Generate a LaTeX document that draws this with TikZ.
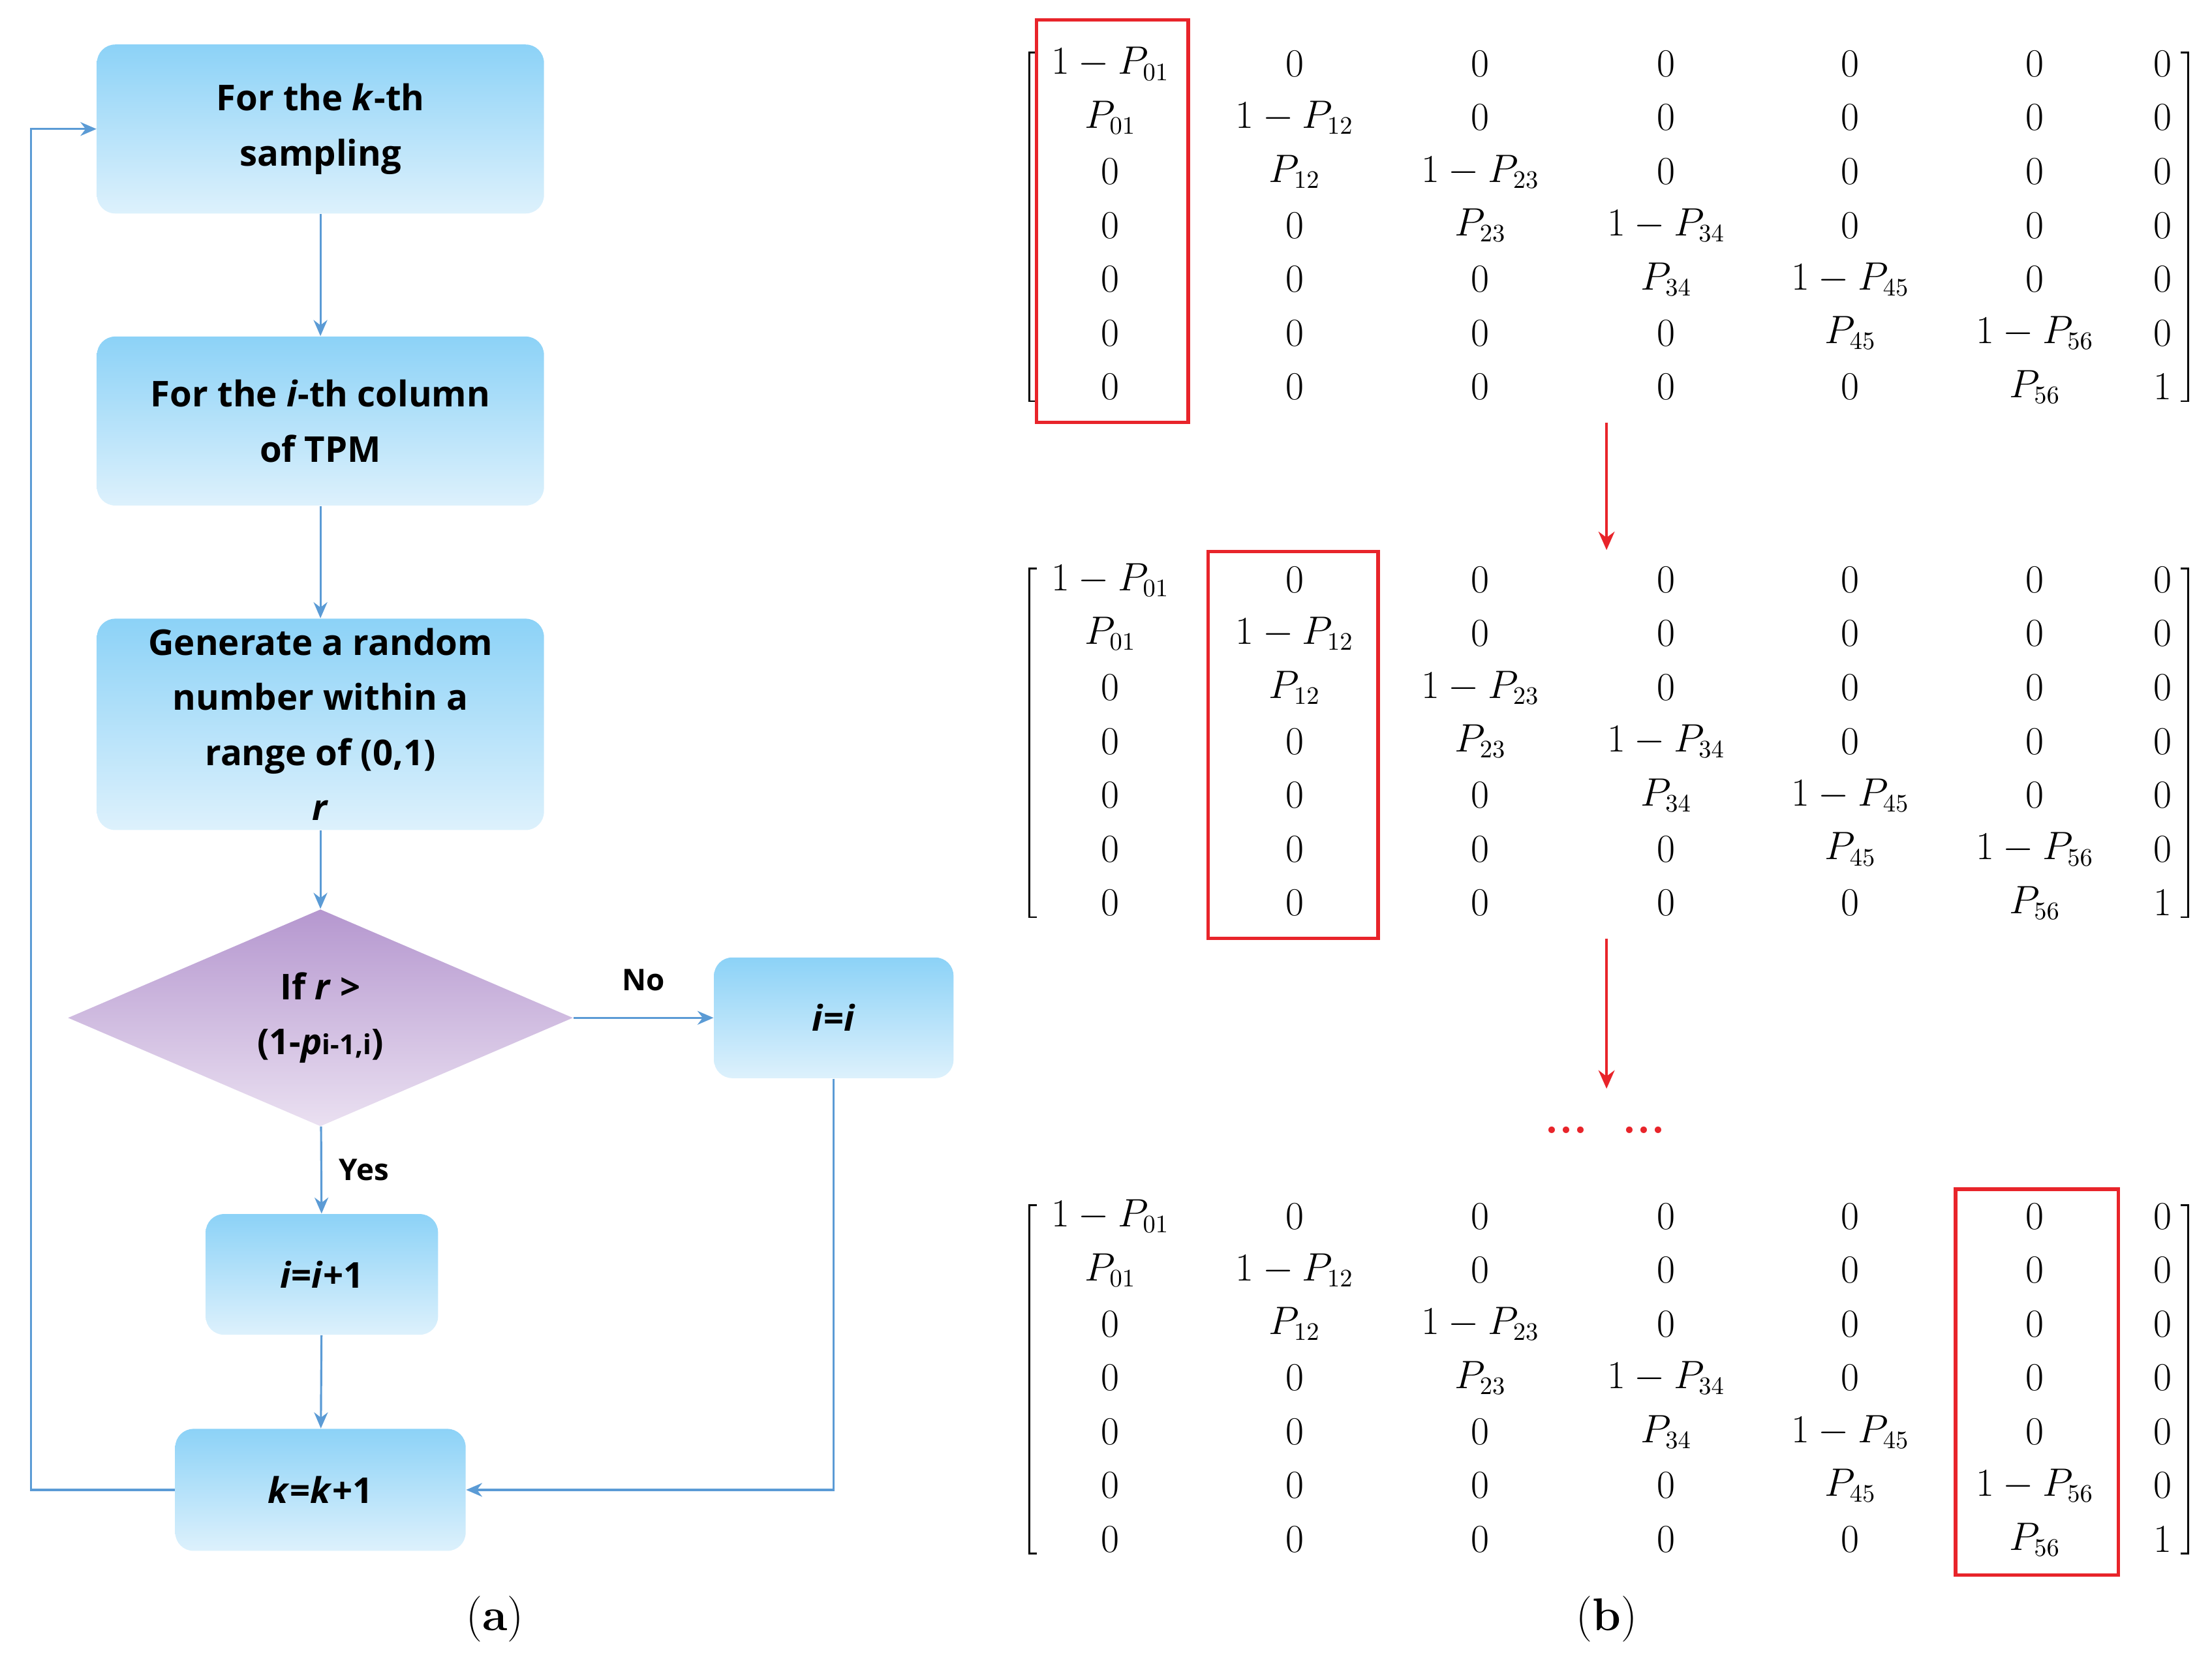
\documentclass[tikz,border=0pt]{standalone}
\usepackage{fontspec}
\setmainfont{Latin Modern Roman}
\newfontfamily\flowfont{Open Sans}
\usetikzlibrary{shapes.geometric,arrows.meta}
\definecolor{lb}{HTML}{5B9BD5}
\definecolor{bt}{HTML}{8CD2F7}
\definecolor{bb}{HTML}{DDF1FC}
\definecolor{pt}{HTML}{B597CF}
\definecolor{pb}{HTML}{EAE0F1}
\definecolor{rr}{HTML}{E8242A}
\begin{document}
\begin{tikzpicture}[x=0.02173cm,y=-0.02173cm,
  box/.style={rounded corners=0.28cm,top color=bt,bottom color=bb,draw=none,
    font=\flowfont\bfseries\fontsize{15.5}{24}\selectfont,align=center,inner sep=0pt},
  con/.style={lb,line width=0.9pt,-{Stealth[length=7pt,width=6pt]}},
  ent/.style={font=\fontsize{16}{20}\selectfont,inner sep=0pt},
  lab/.style={text=black,font=\flowfont\bfseries\fontsize{13}{16}\selectfont}]
\useasboundingbox (0,0) rectangle (1560,1166);
% flowchart
\node[box,minimum width=6.85cm,minimum height=2.59cm] (b1) at (226,91) {For the \textit{k}-th\\sampling};
\node[box,minimum width=6.85cm,minimum height=2.59cm] (b2) at (226,297) {For the \textit{i}-th column\\of TPM};
\node[box,minimum width=6.85cm,minimum height=3.24cm] (b3) at (226,511) {Generate a random\\number within a\\range of (0,1)\\\textit{r}};
\node[diamond,top color=pt,bottom color=pb,minimum width=7.74cm,minimum height=3.04cm,inner sep=0pt,
  font=\flowfont\bfseries\fontsize{15.5}{24}\selectfont,align=center] (d) at (226,718) {If \textit{r} >\\(1-\textit{p}{\fontsize{12}{15}\selectfont i-1,i})};
\node[box,minimum width=3.67cm,minimum height=1.85cm] (bn) at (588,718) {\textit{i}=\textit{i}};
\node[box,minimum width=3.56cm,minimum height=1.85cm] (by) at (227,899) {\textit{i}=\textit{i}+1};
\node[box,minimum width=4.45cm,minimum height=1.87cm] (bk) at (226,1051) {\textit{k}=\textit{k}+1};
\draw[con] (b1) -- (b2);
\draw[con] (b2) -- (b3);
\draw[con] (b3) -- (d);
\draw[con] (d) -- (bn) node[lab,midway,above=8pt] (no) {No};
\draw[con] (d) -- (by) node[lab,midway,right=4pt] (yes) {Yes};
\draw[con] (by) -- (bk);
\draw[con] (bk.west) -- (22,1051) -- (22,91) -- (b1.west);
\draw[con] (bn.south) -- (588,1051) -- (bk.east);
\node[font=\bfseries\fontsize{20}{24}\selectfont] (la) at (349,1142) {\textmd{(}a\textmd{)}};
\node[font=\bfseries\fontsize{20}{24}\selectfont] (lbb) at (1133,1142) {\textmd{(}b\textmd{)}};
% matrices
\foreach \m/\y in {1/45,2/409,3/858}{
  \foreach \c/\x in {0/783,1/913,2/1044,3/1175,4/1305,5/1435,6/1525}{
    \foreach \r in {0,...,6}{
      \pgfmathtruncatemacro\cc{\c+1}
      \pgfmathtruncatemacro\pr{\r-1}
      \pgfmathsetmacro\yy{\y+38*\r}
      \ifnum\r=\c
        \ifnum\c=6
          \node[ent] (m\m-\r-\c) at (\x,\yy) {$1$};
        \else
          \node[ent] (m\m-\r-\c) at (\x,\yy) {$1-P_{\c\cc}$};
        \fi
      \else
        \ifnum\pr=\c
          \node[ent] (m\m-\r-\c) at (\x,\yy) {$P_{\c\r}$};
        \else
          \node[ent] (m\m-\r-\c) at (\x,\yy) {$0$};
        \fi
      \fi
    }
  }
  \draw[line width=0.8pt] (731,\y-8) -- (726,\y-8) -- (726,\y+238) -- (731,\y+238);
  \draw[line width=0.8pt] (1538,\y-8) -- (1543,\y-8) -- (1543,\y+238) -- (1538,\y+238);
}
\draw[rr,line width=1.6pt] (731,14) rectangle (838,298);
\draw[rr,line width=1.6pt] (852,389) rectangle (972,662);
\draw[rr,line width=1.6pt] (1379,839) rectangle (1494,1111);
\coordinate (a1s) at (1133,298); \coordinate (a1e) at (1133,388);
\coordinate (a2s) at (1133,662); \coordinate (a2e) at (1133,768);
\draw[rr,line width=1.3pt,-{Stealth[length=8pt,width=7pt]}] (a1s) -- (a1e);
\draw[rr,line width=1.3pt,-{Stealth[length=8pt,width=7pt]}] (a2s) -- (a2e);
\node[rr,font=\bfseries\fontsize{20}{22}\selectfont] (dots) at (1132,797) {\textbf{...\ \ ...}};
\end{tikzpicture}
\end{document}
